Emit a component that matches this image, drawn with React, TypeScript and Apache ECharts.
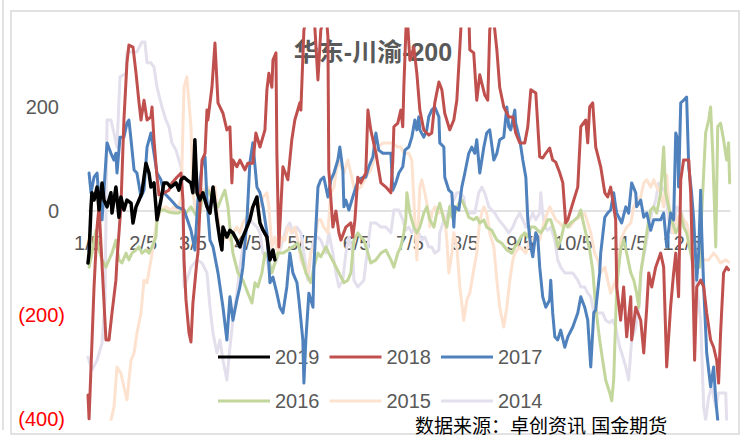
import React, { useEffect, useRef } from "react";
import * as echarts from "echarts";

// x = days since 5 Jan; y = spread value
const tickDays = [0, 31, 59, 90, 120, 151, 181, 212, 243, 273, 304, 334];
const tickLabels = ["1/5", "2/5", "3/5", "4/5", "5/5", "6/5", "7/5", "8/5", "9/5", "10/5", "11/5", "12/5"];
const seriesNames = ["2019", "2018", "2017", "2016", "2015", "2014"];

const s2019 = [[0,-100],[0.6,-81],[1.7,8],[2.2,35],[3.4,21],[5.1,46],[6.2,2],[7.9,54],[9,21],[10.7,8],[12.9,35],[13.5,-4],[15.7,46],[17.4,-12],[18.5,27],[20.2,2],[21.9,21],[24.2,15],[25.3,-23],[27,8],[28.7,21],[30.3,35],[31.5,65],[32.6,92],[34.3,73],[35.4,46],[37.1,54],[38.2,8],[38.8,-17],[39.9,2],[41,21],[42.7,54],[44.4,54],[46.6,46],[49.5,54],[51.1,40],[52.3,60],[54,65],[55.6,60],[57.9,54],[59,35],[60.1,137],[61.3,35],[62.9,21],[64.6,35],[66.9,8],[68.6,-4],[70.3,46],[72.5,-17],[74.2,-56],[75.3,-75],[75.9,-31],[78.1,-50],[79.8,-37],[81.5,-42],[83.7,-56],[85.4,-69],[87.1,-50],[89.4,-31],[91,-17],[92.7,8],[95,27],[95.5,8],[96.7,-23],[98.4,-37],[100.6,-50],[102.3,-94],[104,-75],[105.1,-94]];

const s2018 = [[0,-354],[0.6,-400],[3.4,-146],[5.1,-31],[6.2,8],[10.1,-248],[11.8,-248],[13.5,-196],[15.7,-133],[16.3,-94],[18.5,8],[20.2,175],[21.9,285],[23,319],[25.3,315],[27,265],[28.7,208],[29.8,175],[31.5,213],[33.2,175],[35.4,181],[36,200],[37.1,137],[38.8,65],[39.9,31],[42.7,35],[45.5,40],[47.2,54],[50,65],[52.3,73],[53.4,21],[54,-94],[55.1,-171],[56.8,-235],[57.9,-252],[59,-177],[61.3,-94],[61.8,-81],[64.1,98],[65.8,111],[66.9,194],[67.4,175],[69.7,238],[71.4,323],[73.1,208],[75.9,188],[78.1,156],[79.8,162],[80.9,54],[81.5,98],[83.7,85],[85.4,98],[88.2,79],[89.9,92],[92.7,92],[94.4,150],[96.7,123],[99.5,156],[100.6,233],[101.7,265],[103.4,238],[104,290],[105.7,304],[106.2,111],[107.3,-69],[109.6,85],[112.4,60],[114.6,137],[116.3,175],[119.1,208],[119.7,194],[121.4,348],[123.6,385],[127,385],[129.3,252],[130.9,348],[133.8,385],[134.9,335],[135.4,79],[137.7,-31],[139.4,0],[141.1,-42],[142.2,-56],[145,-31],[147.8,-23],[148.9,-50],[150.1,-17],[151.7,65],[153.4,54],[156.2,73],[157.4,194],[159,156],[161.9,111],[164.7,54],[167.5,46],[170.3,35],[171.4,98],[172,162],[174.2,169],[175.9,194],[177,162],[177.6,238],[178.7,342],[179.3,385],[181,290],[183.2,315],[184.9,265],[186.6,194],[188.8,156],[191.6,146],[193.3,150],[195,208],[197.3,248],[199,233],[200.6,188],[203.4,156],[205.7,175],[207.4,213],[209.1,315],[210.2,385],[214.1,385],[214.7,310],[216.9,304],[218.6,213],[220.3,262],[223.1,223],[224.8,213],[225.9,348],[227.6,385],[229.9,310],[231.5,238],[233.8,200],[236.6,181],[238.9,181],[240.5,150],[242.8,131],[245.6,131],[247.3,162],[249,233],[251.8,227],[254,104],[255.7,102],[257.4,111],[259.6,121],[261.3,98],[263,94],[265.3,73],[267,54],[268.6,-23],[269.8,-17],[272.6,15],[275.4,46],[277.1,162],[279.9,175],[281,131],[282.1,200],[283.8,208],[285.5,123],[288.3,85],[290.6,35],[292.2,27],[293.9,46],[295.6,8],[296.7,-17],[297.3,-146],[299.5,-210],[301.2,-146],[302.9,-242],[305.2,-165],[305.7,-248],[308,-185],[310.8,-210],[312.5,-273],[314.2,-185],[315.3,-119],[317,-146],[319.2,-108],[322,-81],[323.7,-108],[325.4,-300],[327.6,-185],[329.3,-119],[330.5,-81],[332.1,-165],[333.3,60],[334.9,98],[337.8,98],[338.9,35],[340,-108],[341.1,-287],[342.3,-146],[344.5,-133],[346.2,-146],[347.9,-196],[350.1,-248],[351.8,-262],[353.5,-287],[354.6,-331],[355.7,-235],[357.4,-119],[359.1,-108],[360.2,-113]];

const s2017 = [[0.6,73],[1.7,35],[3.4,65],[5.1,73],[6.2,21],[7.9,-17],[10.7,131],[12.9,111],[14.6,98],[15.7,111],[16.3,73],[18,142],[20.2,142],[21.9,169],[23,175],[24.2,137],[25.9,79],[27.5,73],[29.8,27],[31.5,40],[33.2,123],[35.4,150],[37.1,111],[38.8,73],[41,60],[42.7,35],[46.6,21],[50,8],[54,2],[57.9,-37],[60.1,-75],[61.8,21],[64.1,88],[65.8,104],[66.9,21],[68.6,-56],[70.3,-69],[73.1,-119],[75.9,-185],[78.1,-248],[79.8,-165],[81.5,-210],[83.7,-171],[85.4,-146],[87.1,-108],[89.4,-17],[91,92],[92.7,131],[95,46],[96.7,35],[98.4,8],[100.6,-42],[102.3,-138],[104,-127],[106.2,-158],[107.9,-185],[109.6,-196],[111.8,-146],[113.5,-81],[115.2,-119],[117.5,-138],[118.6,-171],[120.8,-248],[121.4,-331],[122.5,-248],[124.2,-158],[126.5,-185],[127,-108],[129.3,46],[130.9,60],[132.6,65],[134.9,27],[136.6,60],[138.3,73],[140.5,98],[141.6,123],[143.3,79],[143.9,8],[145,21],[146.7,2],[148.9,27],[150.6,46],[152.3,60],[154.6,65],[156.2,65],[157.9,85],[160.2,104],[161.9,150],[163.5,117],[165.8,111],[170.3,111],[171.4,40],[173.1,54],[174.8,73],[177,85],[178.2,117],[180.4,123],[182.1,142],[183.8,175],[184.9,156],[186,181],[186.6,156],[188.8,142],[190.5,156],[191.6,181],[193.3,194],[195,200],[197.3,181],[197.8,131],[200.1,123],[200.6,65],[202.9,40],[204.6,35],[205.7,-31],[206.3,8],[208.5,2],[210.2,46],[211.9,73],[214.1,111],[215.8,123],[217.5,111],[218.6,137],[220.3,73],[222.6,123],[224.2,150],[225.9,156],[228.2,98],[229.9,111],[231.5,137],[233.8,142],[235.5,200],[236.6,162],[237.7,156],[240,194],[240.5,169],[242.8,137],[244.5,98],[246.2,65],[247.3,-17],[249,-69],[250.1,-88],[251.8,-42],[252.9,-50],[254,-108],[255.7,-165],[257.4,-185],[259.6,-171],[260.2,-133],[261.3,-196],[262.5,-242],[264.1,-248],[265.8,-229],[268.1,-262],[269.8,-242],[272.6,-223],[275.4,-196],[277.1,-165],[279.3,-185],[281,-210],[282.7,-300],[284.4,-196],[285.5,-190],[287.7,-119],[288.3,-81],[290.6,-12],[292.2,-4],[293.9,2],[295.6,35],[296.7,8],[297.3,-4],[300.1,-23],[302.4,8],[304,-4],[305.7,54],[308,35],[308.5,8],[310.8,21],[312.5,-12],[314.2,-4],[316.4,-37],[318.1,-17],[322,-17],[323.7,-4],[325.4,-69],[327.6,-4],[329.3,-17],[330.5,150],[331.6,137],[332.1,46],[333.3,208],[334.9,213],[336.6,219],[337.8,85],[339.4,35],[340.6,-17],[342.3,-133],[343.4,-81],[344.5,40],[345.1,-42],[346.2,-146],[347.9,-273],[350.1,-338],[351.8,-300],[353,-363],[354.1,-402]];

const s2016 = [[0.6,-108],[2.2,-81],[4.5,-37],[6.2,-75],[7.9,-94],[10.1,-108],[11.8,-94],[13.5,-81],[15.7,-56],[17.4,-94],[19.1,-100],[21.4,-81],[23,-94],[24.7,-81],[27,-75],[28.7,-69],[30.3,-81],[32.6,-75],[34.3,-81],[36,-69],[38.2,-50],[38.8,-17],[40.5,2],[42.7,2],[45.5,-2],[48.3,-4],[51.1,-4],[52.8,2],[55.1,-4],[57.9,8],[60.7,-8],[62.9,-4],[64.6,35],[67.4,40],[70.3,21],[73.1,8],[75.3,27],[77,40],[78.7,8],[79.8,-31],[81.5,-81],[84.3,-119],[87.1,-133],[89.9,-158],[92.2,-177],[93.9,-138],[95.5,-146],[97.8,-119],[99.5,-81],[101.2,-88],[103.4,-119],[105.1,-100],[106.8,-81],[109.6,-81],[112.4,-75],[115.2,-69],[118,-62],[119.7,-81],[122.5,-119],[125.3,-138],[127,-108],[129.3,-81],[130.9,-88],[133.8,-69],[135.4,-81],[138.3,-100],[141.1,-119],[143.9,-138],[146.1,-133],[147.8,-119],[149.5,-56],[151.7,-42],[153.4,-50],[155.1,-56],[157.4,-81],[159,-100],[161.9,-94],[164.7,-81],[167.5,-75],[170.3,-94],[172,-108],[174.2,-81],[175.9,-69],[177.6,-42],[178.7,-17],[179.3,35],[181,-4],[183.2,-31],[184.9,-42],[186.6,-31],[188.8,-4],[190.5,8],[192.2,-17],[194.5,-31],[196.1,-4],[197.8,15],[200.1,-17],[201.8,-31],[203.4,8],[204.6,-12],[206.3,-4],[208.5,15],[210.2,21],[211.9,8],[214.1,-12],[216.9,-17],[218.6,-12],[220.3,-23],[222.6,-17],[224.2,-31],[227,-37],[229.9,-56],[232.7,-62],[235.5,-75],[238.3,-81],[240,-69],[241.7,-62],[243.3,-50],[245.6,-42],[247.3,-50],[249,-31],[251.2,-31],[252.9,-37],[254.6,-42],[256.8,-31],[258.5,-17],[260.2,-17],[262.5,-42],[264.1,-69],[265.8,-56],[268.1,-23],[269.8,-31],[271.4,-23],[273.7,-17],[275.4,-12],[277.1,2],[278.2,-17],[279.9,-42],[282.1,-75],[283.8,-113],[285.5,-185],[287.7,-248],[289.4,-287],[291.1,-325],[293.4,-350],[294.5,-365],[295.6,-325],[296.7,-210],[297.3,-146],[299.5,-75],[301.2,-56],[302.9,-81],[305.2,-119],[306.9,-133],[308.5,-158],[309.7,-185],[310.8,-119],[312.5,-81],[314.2,-42],[315.3,-17],[316.4,2],[318.1,8],[319.8,-4],[322,35],[323.7,123],[324.8,35],[326.5,8],[328.2,-17],[330.5,-42],[332.1,-31],[333.3,-4],[334.9,-31],[336.6,-42],[338.9,-81],[340.6,-108],[342.3,-108],[343.9,-108],[345.1,-4],[347.3,150],[349,175],[350.1,200],[351.3,111],[353,-69],[354.1,162],[355.7,169],[357.4,137],[359.1,98],[360.2,131],[360.8,54]];

const s2015 = [[12.9,-402],[14.6,-377],[16.3,-300],[18.5,-312],[20.2,-338],[21.9,-363],[24.2,-287],[25.9,-273],[27.5,-235],[29.8,-196],[31.5,-133],[33.2,-138],[35.4,-94],[37.1,-56],[38.8,-17],[41,2],[43.8,8],[46.6,2],[48.3,8],[50,2],[52.3,21],[54,238],[55.6,258],[57.9,162],[59,35],[61.3,-17],[62.9,8],[64.6,40],[67.4,46],[69.7,35],[71.4,46],[72.5,8],[74.2,-42],[75.9,-56],[78.1,-42],[79.8,-56],[81.5,-42],[83.7,-31],[85.4,-42],[87.1,-23],[89.4,-12],[91,2],[92.7,8],[95,15],[96.7,8],[98.4,27],[100.6,35],[101.7,8],[103.4,-69],[105.1,-50],[106.8,-81],[109,-50],[110.7,-56],[112.4,-31],[114.6,-42],[116.3,-31],[118,-56],[119.7,-94],[121.4,-108],[123.6,-119],[125.3,-81],[127,-69],[129.3,-17],[130.9,-17],[132.6,-31],[134.9,-42],[135.4,-17],[136.6,35],[138.3,46],[140.5,98],[142.2,85],[143.9,73],[146.1,98],[147.8,73],[149.5,46],[150.6,40],[153.4,46],[156.2,65],[159,79],[160.7,98],[163,123],[165.8,131],[171.4,131],[174.2,123],[175.9,123],[177.6,111],[180.4,111],[182.1,98],[183.8,-17],[184.9,-94],[186.6,46],[187.7,60],[189.4,35],[191.6,-4],[192.2,-31],[193.3,-4],[195,8],[197.3,-4],[199,2],[200.6,-17],[201.8,-56],[202.9,-119],[204.6,-81],[205.7,-42],[207.4,-69],[209.1,-146],[211.3,-210],[213,-171],[214.7,-158],[216.9,-113],[218.6,-81],[220.3,-17],[222.6,8],[224.2,-4],[225.9,-42],[228.2,-69],[229.9,-133],[231.5,-185],[233.8,-223],[235.5,-185],[237.2,-133],[238.9,-94],[240,-81],[242.8,-69],[244.5,-75],[246.2,-81],[248.4,-56],[250.1,-56],[251.8,-42],[254,-56],[255.7,-31],[257.4,-12],[259.6,8],[261.3,-4],[263,-17],[265.3,-23],[267,-31],[268.6,-17],[270.9,-31],[273.7,-17],[276.5,-12],[279.3,-4],[281,-23],[282.7,-42],[284.9,-81],[286.6,-94],[288.3,-119],[290.6,-108],[292.2,-133],[293.9,-158],[296.2,-138],[297.9,-119],[299.5,-56],[301.2,-42],[302.9,-31],[305.2,-23],[306.9,8],[308.5,21],[310.8,27],[312.5,54],[314.2,60],[316.4,46],[318.1,60],[319.8,46],[322,35],[323.7,8],[325.4,69],[327.6,-31],[329.3,-42],[331,-17],[333.3,-4],[334.9,-17],[336.6,-23],[338.9,-56],[340.6,-69],[342.3,-81],[344.5,-94],[346.2,-94],[349,-94],[351.8,-81],[353.5,-88],[355.7,-100],[358.6,-94],[360.2,-98]];

const s2014 = [[0,-281],[2.2,-306],[5.1,-287],[7.9,-254],[9.6,-171],[10.7,175],[12.9,175],[14.6,150],[16.3,123],[18,258],[21.4,265],[21.9,306],[27.5,306],[30.3,325],[32,325],[33.2,285],[35.4,285],[37.1,277],[38.8,238],[41.6,200],[43.8,175],[45.5,162],[47.2,131],[49.5,117],[51.1,98],[52.8,79],[53.4,-17],[54,-146],[55.6,-133],[57.9,-108],[61.3,-94],[64.1,-100],[66.9,-119],[68.6,-185],[70.3,-235],[72.5,-273],[74.2,-248],[75.9,-287],[78.1,-325],[79.8,-262],[81.5,-210],[83.7,-158],[85.4,-108],[87.1,-69],[89.4,-31],[91,-17],[92.7,-23],[95,-31],[96.7,-42],[98.4,-81],[100.6,-94],[102.3,-119],[104,-108],[106.2,-94],[107.9,-75],[109.6,-56],[111.8,-31],[113.5,-23],[115.2,-42],[117.5,-31],[119.7,-42],[121.4,-81],[123.6,-133],[125.3,-81],[127,-56],[129.3,-50],[130.9,-56],[133.8,-81],[135.4,-42],[137.7,-81],[139.4,-119],[141.1,-146],[143.3,-133],[145,-81],[146.7,-50],[148.9,-81],[149.5,-133],[151.7,-146],[155.1,-133],[157.4,-69],[159,-23],[161.9,-23],[164.7,-31],[167.5,-31],[170.3,-42],[172,2],[174.8,2],[177,-17],[178.7,-37],[180.4,-31],[182.1,-42],[183.8,-31],[186,-42],[187.7,-56],[189.4,-50],[191.6,-69],[193.3,-69],[195,-81],[197.3,-75],[197.8,-42],[200.1,-17],[201.8,-12],[203.4,8],[205.7,21],[207.4,35],[209.1,35],[211.3,27],[211.9,8],[214.1,-4],[217.5,-4],[219.7,35],[221.4,46],[223.1,35],[225.4,8],[228.7,-4],[231,-17],[234.4,-31],[236.6,-42],[238.9,-31],[240.5,-17],[242.8,-4],[244.5,-17],[246.2,-31],[248.4,-17],[250.1,-4],[251.8,-17],[254,-4],[254.6,35],[255.7,-4],[256.8,-31],[258.5,-37],[260.2,-31],[262.5,-56],[264.1,-94],[265.8,-108],[268.1,-119],[272.6,-119],[275.4,-133],[277.1,-146],[279.3,-146],[281,-158],[282.7,-165],[284.4,-196],[289.4,-196],[291.1,-210],[293.4,-215],[295,-210],[296.7,-223],[299,-262],[300.1,-273],[302.4,-300],[304,-325],[305.7,-248],[308,-223],[309.7,-185],[311.3,-108],[314.2,-56],[317,-4],[319.2,21],[320.9,54],[322.6,46],[324.8,35],[326.5,-17],[328.2,-42],[329.3,-31],[331,8],[333.3,2],[334.9,-17],[336.6,-31],[338.9,-81],[340.6,-119],[342.3,-146],[344.5,-210],[346.2,-377],[347.3,-402],[349,-358],[350.7,-338],[353,-377],[354.6,-350],[358.6,-350],[359.1,-402]];

const seriesData = [s2019, s2018, s2017, s2016, s2015, s2014];
const seriesColors = ["#000000", "#C0504D", "#4F81BD", "#C3D69B", "#FCE2CF", "#E4DFEC"];
const seriesWidths = [3.5, 3, 3, 3, 3, 3];

const FONT = "'Liberation Sans', 'Noto Sans CJK SC', sans-serif";

const GRID_TOP = 29;
const GRID_BOTTOM = 22;
const Y_MIN = -400;
const Y_MAX = 350;

export default function App() {
  const ref = useRef<HTMLDivElement>(null);
  useEffect(() => {
    document.body.style.margin = "0";
    if (!ref.current) return;
    const chart = echarts.init(ref.current, null, { renderer: "svg" });
    const plotH = 441 - GRID_TOP - GRID_BOTTOM;
    // distance from the grid's bottom edge up to the zero line
    const zeroOffset = (plotH * (0 - Y_MIN)) / (Y_MAX - Y_MIN);
    const order = [5, 4, 3, 2, 1, 0];
    const series = order.map((i) => ({
      name: seriesNames[i],
      type: "line",
      data: seriesData[i],
      showSymbol: false,
      symbol: "none",
      color: seriesColors[i],
      lineStyle: { width: seriesWidths[i], color: seriesColors[i], join: "round", cap: "round" },
      itemStyle: { color: seriesColors[i] },
      emphasis: { disabled: true },
      z: 2 + (5 - i),
    }));
    const legendBase = {
      left: 213,
      icon: "rect",
      itemWidth: 52,
      itemHeight: 3,
      itemGap: 10,
      textStyle: { fontSize: 20, color: "#595959", fontFamily: FONT },
      selectedMode: false,
    };
    chart.setOption({
      animation: false,
      backgroundColor: "#ffffff",
      title: {
        text: "{a|华东-川渝}{b|-200}",
        left: "center",
        top: 34,
        textStyle: {
          rich: {
            a: { fontSize: 25, color: "#595959", fontFamily: FONT },
            b: { fontSize: 25, color: "#595959", fontFamily: FONT, fontWeight: "bold" },
          },
        },
      },
      legend: [
        { ...legendBase, top: 342, data: seriesNames.slice(0, 3) },
        { ...legendBase, top: 386, data: seriesNames.slice(3, 6) },
      ],
      grid: {
        left: 88,
        right: 16,
        top: GRID_TOP,
        bottom: GRID_BOTTOM,
        containLabel: false,
        outerBoundsMode: "none",
      },
      xAxis: {
        type: "value",
        position: "bottom",
        offset: -zeroOffset,
        min: 0,
        max: 361,
        splitLine: { show: false },
        axisTick: { show: false },
        axisLine: { show: true, onZero: false, lineStyle: { color: "#D9D9D9", width: 1.5 } },
        axisLabel: {
          customValues: tickDays,
          margin: 22,
          fontSize: 20,
          color: "#595959",
          fontFamily: FONT,
          formatter: (v: number) => {
            const i = tickDays.indexOf(Math.round(v));
            return i >= 0 ? tickLabels[i] : "";
          },
        },
      },
      yAxis: {
        type: "value",
        min: Y_MIN,
        max: Y_MAX,
        interval: 200,
        splitLine: { show: false },
        axisTick: { show: false },
        axisLine: { show: false },
        axisLabel: {
          showMaxLabel: false,
          margin: 23,
          fontFamily: FONT,
          fontSize: 20,
          formatter: (v: number) => {
            if (v > 300) return "";
            if (v < 0) return "{n|(" + Math.abs(v) + ")}";
            return "{p|" + v + "}";
          },
          rich: {
            n: { color: "#FF0000", fontSize: 20, fontFamily: FONT },
            p: { color: "#595959", fontSize: 20, fontFamily: FONT, padding: [0, 6, 0, 0] },
          },
        },
      },
      graphic: [
        {
          type: "rect",
          silent: true,
          shape: { x: 11, y: 11, width: 728, height: 423 },
          style: { fill: "none", stroke: "#D9D9D9", lineWidth: 1.5 },
          z: 0,
        },
        {
          type: "line",
          silent: true,
          shape: { x1: 3, y1: 0, x2: 3, y2: 430 },
          style: { stroke: "#D9D9D9", lineWidth: 1.5 },
        },
        {
          type: "text",
          silent: true,
          x: 415,
          y: 417,
          style: {
            text: "数据来源：卓创资讯 国金期货",
            fontSize: 19,
            fontFamily: FONT,
            fill: "#000000",
          },
        },
      ],
      series,
    });
    return () => chart.dispose();
  }, []);
  return (
    <div
      ref={ref}
      style={{ width: 746, height: 441, position: "fixed", left: 0, top: 0 }}
    />
  );
}
